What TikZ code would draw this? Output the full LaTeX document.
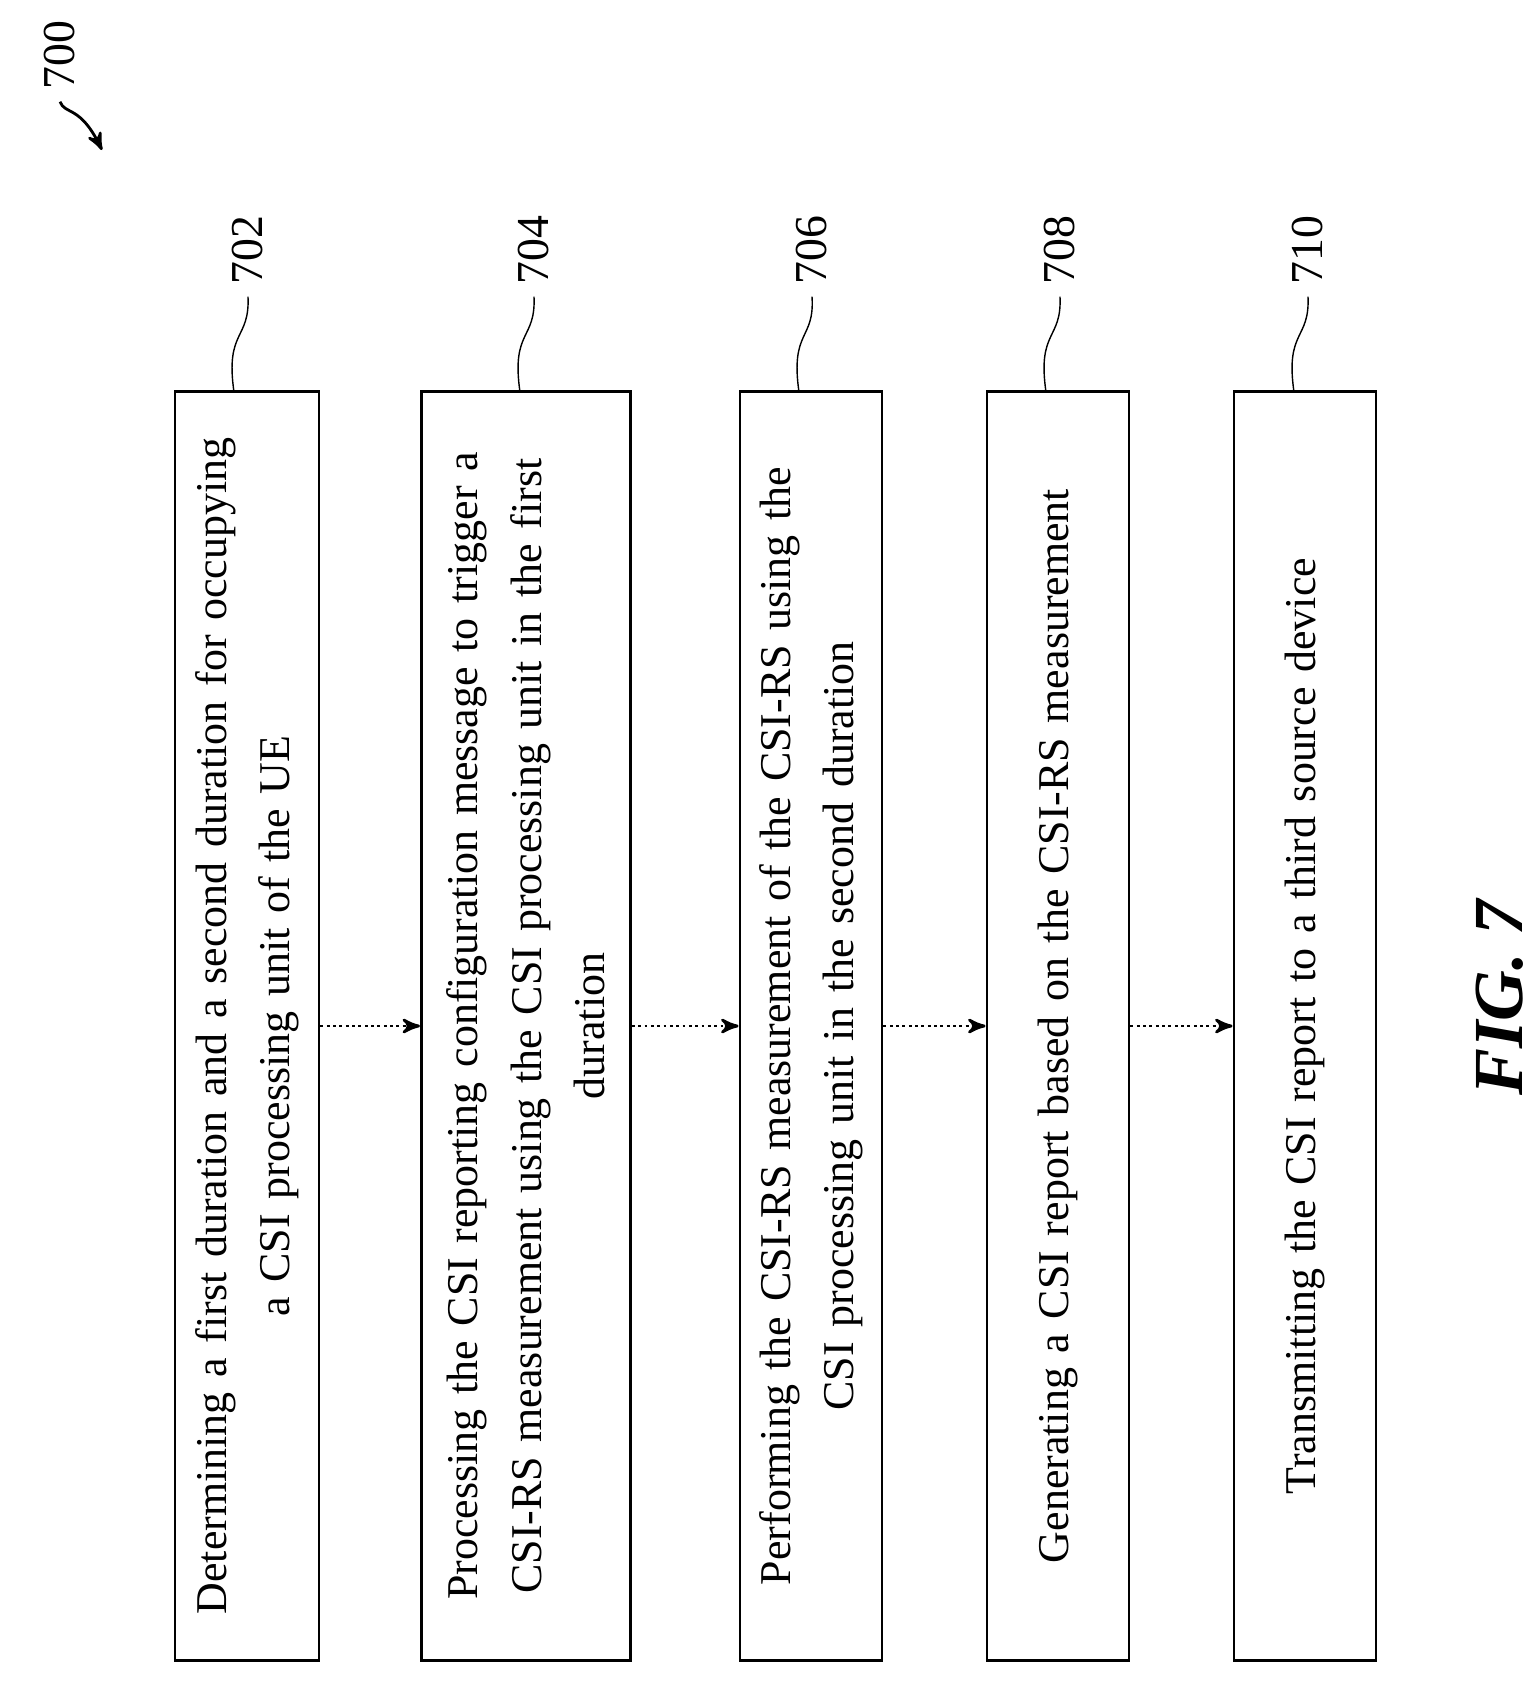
\documentclass[tikz,border=0pt]{standalone}
\usepackage{fontspec}
\setmainfont{Liberation Serif}
\usetikzlibrary{arrows}
\begin{document}
\begin{tikzpicture}[x=0.01cm,y=-0.01cm,
  stepbox/.style={draw, thick, rotate=90, minimum width=12.69cm, align=center,
    text width=12.3cm, font=\fontsize{12.5}{18}\selectfont, inner sep=0pt},
  ref/.style={rotate=90, font=\fontsize{13}{16}\selectfont},
  flow/.style={thick, densely dotted, ->, >=stealth'}]

\useasboundingbox (0,0) rectangle (1537,1684);

% steps
\node[stepbox, minimum height=1.44cm] (s702) at (247,1026)
  {Determining a first duration and a second duration for occupying\\ a CSI processing unit of the UE};
\node[stepbox, minimum height=2.09cm] (s704) at (526,1026)
  {Processing the CSI reporting configuration message to trigger a\\ CSI-RS measurement using the CSI processing unit in the first\\ duration};
\node[stepbox, minimum height=1.42cm] (s706) at (811,1026)
  {Performing the CSI-RS measurement of the CSI-RS using the\\ CSI processing unit in the second duration};
\node[stepbox, minimum height=1.42cm] (s708) at (1058,1026)
  {Generating a CSI report based on the CSI-RS measurement};
\node[stepbox, minimum height=1.42cm] (s710) at (1305,1026)
  {Transmitting the CSI report to a third source device};

\draw[flow] (s702.south) -- (s704.north);
\draw[flow] (s704.south) -- (s706.north);
\draw[flow] (s706.south) -- (s708.north);
\draw[flow] (s708.south) -- (s710.north);

% reference numbers
\node[ref] (n702) at (248,250) {702};
\node[ref] (n704) at (534,250) {704};
\node[ref] (n706) at (812,250) {706};
\node[ref] (n708) at (1060,250) {708};
\node[ref] (n710) at (1308,250) {710};
\draw (234,392) .. controls (225,330) and (250,340) .. (n702.west);
\draw (520,392) .. controls (511,330) and (536,340) .. (n704.west);
\draw (799,392) .. controls (790,330) and (815,340) .. (n706.west);
\draw (1046,392) .. controls (1037,330) and (1062,340) .. (n708.west);
\draw (1294,392) .. controls (1285,330) and (1310,340) .. (n710.west);

\node[ref] (n700) at (60,55) {700};
\draw[thick, ->, >=stealth'] (n700.west) .. controls (65,115) and (80,105) .. (102,150);

\node[rotate=90, font=\fontsize{20}{24}\selectfont\bfseries\itshape] (fig) at (1500,998) {FIG. 7};
\end{tikzpicture}
\end{document}
